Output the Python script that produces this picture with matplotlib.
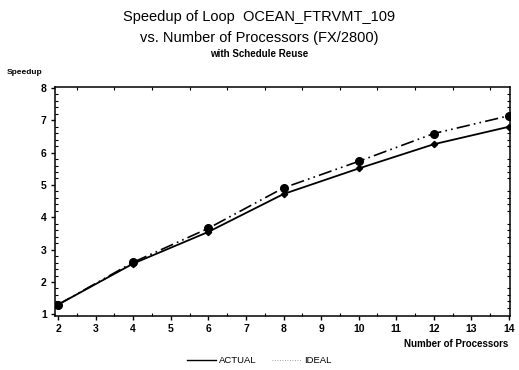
import matplotlib
matplotlib.use("Agg")
import matplotlib.pyplot as plt
from matplotlib.lines import Line2D
from matplotlib.ticker import MultipleLocator

# data
procs = [2, 4, 6, 8, 10, 12, 14]
actual = [1.30, 2.57, 3.55, 4.72, 5.51, 6.26, 6.80]
ideal = [1.30, 2.61, 3.66, 4.91, 5.73, 6.59, 7.14]
xticks = list(range(2, 15))
yticks = list(range(1, 9))

plt.rcParams['font.family'] = ['Liberation Sans', 'DejaVu Sans']

fig = plt.figure(figsize=(5.19, 3.70), dpi=100)
ax = fig.add_axes([0.106, 0.146, 0.877, 0.619])

ax.plot(procs, actual, color='black', lw=1.3, marker='D', ms=3.2)
ax.plot(procs, ideal, color='black', lw=1.2, dashes=(8, 2.5, 1, 2.5, 1, 2.5),
        marker='o', ms=5.5)

ax.set_xlim(1.92, 14.03)
ax.set_ylim(0.95, 8.03)
ax.set_xticks(xticks)
ax.set_yticks(yticks)
ax.xaxis.set_minor_locator(MultipleLocator(0.5))
ax.yaxis.set_minor_locator(MultipleLocator(0.2))
ax.tick_params(which='major', direction='out', length=3, width=1,
               labelsize=7.5, pad=3)
ax.tick_params(which='minor', direction='in', length=2, width=0.8,
               right=True, top=True)
for lab in ax.get_xticklabels() + ax.get_yticklabels():
    lab.set_fontweight('bold')
for s in ax.spines.values():
    s.set_linewidth(1.1)

fig.text(0.5, 0.955, 'Speedup of Loop  OCEAN_FTRVMT_109', ha='center',
         va='center', fontsize=10.5)
fig.text(0.5, 0.898, 'vs. Number of Processors (FX/2800)', ha='center',
         va='center', fontsize=10.5)
fig.text(0.5, 0.855, 'with Schedule Reuse', ha='center', va='center',
         fontsize=7, fontweight='bold')
fig.text(0.012, 0.805, 'Speedup', ha='left', va='center', fontsize=6,
         fontweight='bold')
fig.text(0.979, 0.071, 'Number of Processors', ha='right', va='center',
         fontsize=7, fontweight='bold')

handles = [Line2D([], [], color='black', lw=1),
           Line2D([], [], color='gray', lw=0.6, ls=(0, (1, 2)))]
fig.legend(handles, ['ACTUAL', 'IDEAL'], loc='center', ncol=2,
           bbox_to_anchor=(0.5, 0.025), frameon=False, fontsize=6.8,
           handlelength=3.0, handletextpad=0.4, columnspacing=1.6)

fig.savefig('out.png', dpi=100)
